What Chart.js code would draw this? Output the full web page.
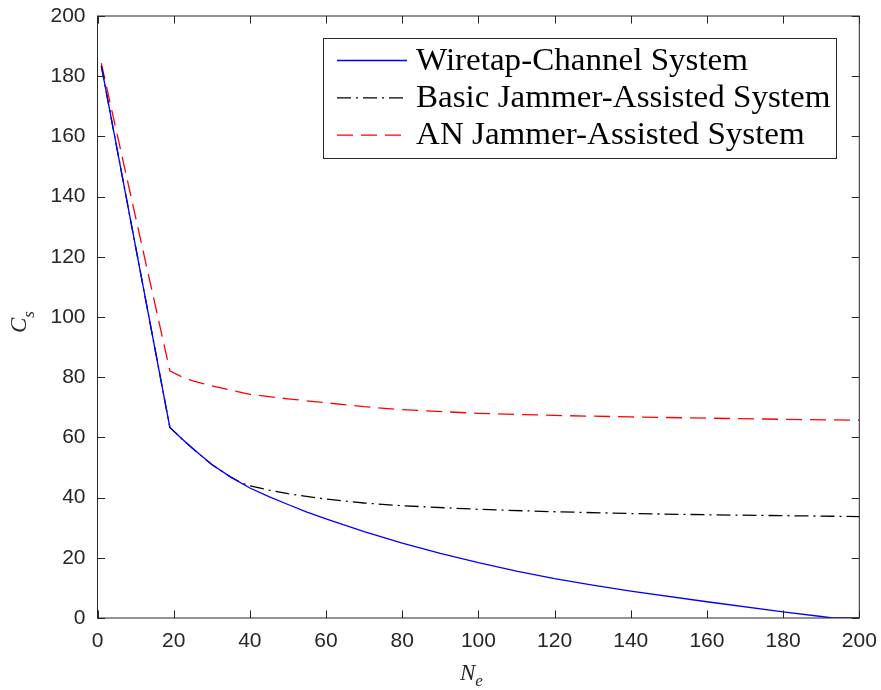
<!DOCTYPE html>
<html>
<head>
<meta charset="utf-8">
<script src="https://cdn.jsdelivr.net/npm/chart.js@4.4.0/dist/chart.umd.min.js"></script>
<style>
  html, body { margin: 0; padding: 0; background: #fff; }
</style>
</head>
<body>
<canvas id="capacityChart" width="881" height="690"></canvas>
<script>
// Secrecy capacity C_s against number of eavesdroppers N_e
const neWiretap = [1, 19, 22, 25, 30, 35, 40, 45, 50, 55, 60, 70, 80, 90, 100, 110, 120, 130, 140, 160, 180, 190, 193, 200];
const csWiretap = [183.4, 63.3, 59.7, 56.3, 51.0, 46.8, 43.2, 40.3, 37.7, 35.2, 32.9, 28.7, 24.9, 21.5, 18.4, 15.6, 13.1, 10.9, 8.9, 5.4, 2.0, 0.5, 0, 0];

const neBasic = [1, 19, 22, 25, 30, 35, 38, 40, 45, 50, 60, 70, 80, 100, 120, 140, 160, 180, 200];
const csBasic = [183.4, 63.3, 59.7, 56.3, 51.0, 46.8, 44.8, 43.9, 42.5, 41.3, 39.5, 38.2, 37.3, 36.1, 35.3, 34.7, 34.3, 34.0, 33.7];

const neAN = [1, 19, 22, 25, 30, 40, 50, 60, 70, 80, 100, 120, 140, 160, 180, 200];
const csAN = [184.3, 82.1, 80.2, 78.8, 77.1, 74.3, 72.8, 71.5, 70.2, 69.2, 68.0, 67.3, 66.8, 66.4, 66.0, 65.7];

const xTicks = [0, 20, 40, 60, 80, 100, 120, 140, 160, 180, 200];
const yTicks = [0, 20, 40, 60, 80, 100, 120, 140, 160, 180, 200];

const seriesNames = ['Wiretap-Channel System', 'Basic Jammer-Assisted System', 'AN Jammer-Assisted System'];

const axisColor = '#262626';
const tickFont = { family: '"Liberation Sans", Arial, sans-serif', size: 21 };
const serif = '"Liberation Serif", "Times New Roman", serif';

function toPoints(xs, ys) {
    return xs.map((x, i) => ({ x: x, y: ys[i] }));
}

// keep the plot box where layout.padding puts it, ignoring label overhang
function noOverhang(scale) {
    scale.paddingLeft = 0;
    scale.paddingRight = 0;
    scale.paddingTop = 0;
    scale.paddingBottom = 0;
}

// Box around the plot with inward ticks on all four sides, axis titles and legend
const framePlugin = {
    id: 'frame',
    afterDraw(chart) {
        const ctx = chart.ctx;
        const area = chart.chartArea;
        const xs = chart.scales.x;
        const ys = chart.scales.y;
        const tl = 7.6;

        ctx.save();
        ctx.strokeStyle = axisColor;
        ctx.lineWidth = 1;
        ctx.setLineDash([]);
        ctx.strokeRect(area.left, area.top, area.right - area.left, area.bottom - area.top);

        ctx.beginPath();
        xTicks.forEach(v => {
            const px = Math.round(xs.getPixelForValue(v)) + 0.5;
            ctx.moveTo(px, area.bottom);
            ctx.lineTo(px, area.bottom - tl);
            ctx.moveTo(px, area.top);
            ctx.lineTo(px, area.top + tl);
        });
        yTicks.forEach(v => {
            const py = Math.round(ys.getPixelForValue(v)) + 0.5;
            ctx.moveTo(area.left, py);
            ctx.lineTo(area.left + tl, py);
            ctx.moveTo(area.right, py);
            ctx.lineTo(area.right - tl, py);
        });
        ctx.stroke();

        // axis titles: N_e below, C_s rotated on the left
        ctx.fillStyle = axisColor;
        ctx.textBaseline = 'alphabetic';
        ctx.textAlign = 'left';
        const big = 'italic 23px ' + serif;
        const sub = 'italic 17px ' + serif;

        ctx.font = big;
        const nW = ctx.measureText('N').width;
        ctx.fillText('N', 460, 680);
        ctx.font = sub;
        ctx.fillText('e', 460 + nW, 686);

        ctx.save();
        ctx.translate(26, 333);
        ctx.rotate(-Math.PI / 2);
        ctx.font = big;
        const cW = ctx.measureText('C').width;
        ctx.fillText('C', 0, 0);
        ctx.font = sub;
        ctx.fillText('s', cW, 8);
        ctx.restore();

        // legend
        const box = { left: 323.5, top: 38.5, right: 836.5, bottom: 158.5 };
        ctx.fillStyle = '#fff';
        ctx.fillRect(box.left, box.top, box.right - box.left, box.bottom - box.top);
        ctx.strokeStyle = axisColor;
        ctx.strokeRect(box.left, box.top, box.right - box.left, box.bottom - box.top);

        ctx.font = '31px ' + serif;
        ctx.textBaseline = 'alphabetic';
        // legend face is a little wider than Liberation Serif
        const sx = 332 / ctx.measureText(seriesNames[0]).width;
        chart.data.datasets.forEach((ds, i) => {
            const y = 60.5 + i * 37.3;
            ctx.strokeStyle = ds.borderColor;
            ctx.lineWidth = ds.borderWidth;
            ctx.setLineDash(ds.borderDash || []);
            ctx.beginPath();
            ctx.moveTo(337, y);
            ctx.lineTo(407, y);
            ctx.stroke();
            ctx.setLineDash([]);
            ctx.save();
            ctx.translate(416, y + 9);
            ctx.scale(sx, 1);
            ctx.fillStyle = '#000';
            ctx.fillText(ds.label, 0, 0);
            ctx.restore();
        });
        ctx.restore();
    }
};

new Chart(document.getElementById('capacityChart'), {
    type: 'line',
    data: {
        datasets: [{
            label: seriesNames[0],
            data: toPoints(neWiretap, csWiretap),
            borderColor: '#0000ff',
            borderWidth: 1.3
        }, {
            label: seriesNames[1],
            data: toPoints(neBasic, csBasic),
            borderColor: '#000000',
            borderWidth: 1.3,
            borderDash: [14, 5, 2, 5]
        }, {
            label: seriesNames[2],
            data: toPoints(neAN, csAN),
            borderColor: '#ff0000',
            borderWidth: 1.3,
            borderDash: [16, 8]
        }]
    },
    options: {
        responsive: false,
        animation: false,
        layout: { padding: { left: 0, right: 21.7, top: 16, bottom: 0 } },
        elements: {
            point: { radius: 0 },
            line: { tension: 0, fill: false }
        },
        plugins: {
            legend: { display: false },
            tooltip: { enabled: false }
        },
        scales: {
            x: {
                type: 'linear',
                min: 0,
                max: 200,
                grid: { display: false, drawTicks: false },
                border: { display: false },
                ticks: { stepSize: 20, padding: 11, color: axisColor, font: tickFont, maxRotation: 0 },
                afterFit(scale) { scale.height = 72; noOverhang(scale); }
            },
            y: {
                type: 'linear',
                min: 0,
                max: 200,
                grid: { display: false, drawTicks: false },
                border: { display: false },
                ticks: { stepSize: 20, padding: 12, color: axisColor, font: tickFont },
                afterFit(scale) { scale.width = 97.5; noOverhang(scale); }
            }
        }
    },
    plugins: [framePlugin]
});
</script>
</body>
</html>
